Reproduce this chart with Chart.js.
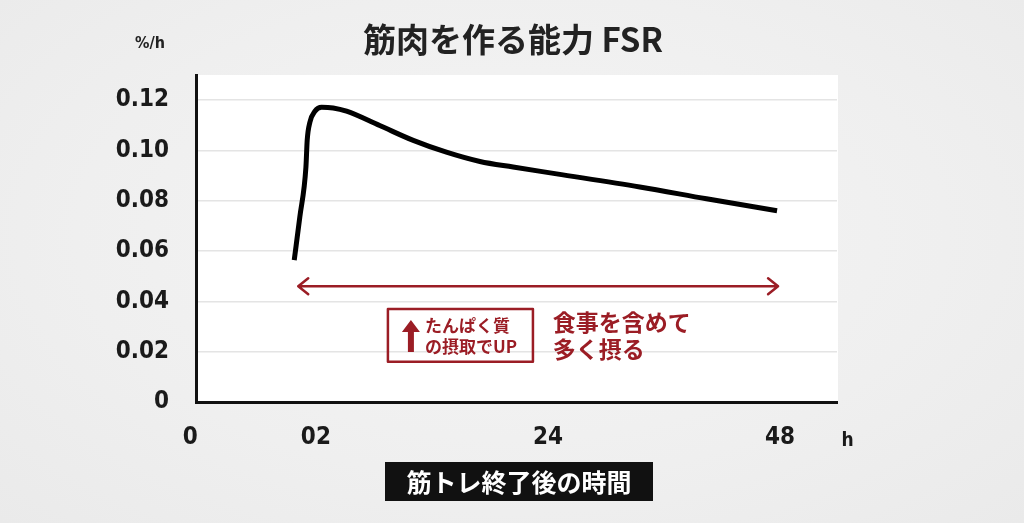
<!DOCTYPE html>
<html lang="ja">
<head>
<meta charset="utf-8">
<title>筋肉を作る能力 FSR</title>
<script src="https://cdn.jsdelivr.net/npm/chart.js@4/dist/chart.umd.min.js"></script>
<style>
  html, body { margin: 0; padding: 0; }
  body {
    width: 1024px; height: 523px; overflow: hidden;
    background: radial-gradient(ellipse at 50% 45%, #f5f5f5 0%, #efefef 60%, #eaeaea 100%);
  }
  canvas { display: block; }
</style>
</head>
<body>
<canvas id="fsr" width="1024" height="523"></canvas>
<script>
// Hours after the end of training, and the muscle protein synthesis rate (%/h)
const hours = [-2.24, -1.66, -1.03, -0.9, -0.62, -0.1, 0.59, 1.79, 3.17, 6.6, 10.07, 13.5, 16.97, 20.4, 24.9, 33.5, 40.4, 47.7];
const fsr   = [0.0564, 0.0736, 0.0934, 0.104, 0.1112, 0.1156, 0.1172, 0.1169, 0.1156, 0.1099, 0.104, 0.0993, 0.0956, 0.0934, 0.0907, 0.0855, 0.0808, 0.076];

// Axis ticks
const xTickValues = [-13, 0, 24, 48, 55];
const xTickLabels = ['0', '02', '24', '48', 'h'];
const yTickValues = [0, 0.02, 0.04, 0.06, 0.08, 0.10, 0.12];

// Texts
const titleText = '筋肉を作る能力 FSR';
const yUnitText = '%/h';
const xTitleText = '筋トレ終了後の時間';
const boxLines = ['たんぱく質', 'の摂取でUP'];
const noteLines = ['食事を含めて', '多く摂る'];

const RED = '#9b1d25';
const NUM_FONT = '"DejaVu Sans Condensed", "Liberation Sans Narrow", "DejaVu Sans", sans-serif';
const JP_FONT = '"Noto Sans CJK JP", "Noto Sans", sans-serif';

const plotBackground = {
  id: 'plotBackground',
  beforeDraw(chart) {
    const { ctx, chartArea: a } = chart;
    ctx.save();
    ctx.fillStyle = '#ffffff';
    ctx.fillRect(a.left, a.top, a.right - a.left + 1, a.bottom - a.top);
    ctx.restore();
  }
};

const decorations = {
  id: 'decorations',
  afterDraw(chart) {
    const { ctx } = chart;
    const xs = chart.scales.x, ys = chart.scales.y;
    ctx.save();

    // title
    ctx.fillStyle = '#222222';
    ctx.textAlign = 'center';
    ctx.textBaseline = 'middle';
    ctx.font = 'bold 33px ' + JP_FONT;
    ctx.fillText(titleText, 513, 39);

    // unit of the value axis
    ctx.font = 'bold 16px ' + NUM_FONT;
    ctx.fillText(yUnitText, 150, 44);

    // x axis title on a black plate
    ctx.fillStyle = '#111111';
    ctx.fillRect(385, 462, 268, 39);
    ctx.fillStyle = '#ffffff';
    ctx.font = 'bold 25px ' + JP_FONT;
    ctx.fillText(xTitleText, 519, 482);

    // span arrow across the whole curve
    const ax0 = xs.getPixelForValue(hours[0]) + 4;
    const ax1 = xs.getPixelForValue(hours[hours.length - 1]) + 1;
    const ay = ys.getPixelForValue(0.046);
    ctx.strokeStyle = RED;
    ctx.lineWidth = 2.5;
    ctx.lineCap = 'round';
    ctx.lineJoin = 'round';
    ctx.beginPath();
    ctx.moveTo(ax0, ay); ctx.lineTo(ax1, ay);
    ctx.moveTo(ax0 + 10, ay - 8); ctx.lineTo(ax0, ay); ctx.lineTo(ax0 + 10, ay + 8);
    ctx.moveTo(ax1 - 10, ay - 8); ctx.lineTo(ax1, ay); ctx.lineTo(ax1 - 10, ay + 8);
    ctx.stroke();

    // framed note
    const bx0 = xs.getPixelForValue(7.45), bx1 = xs.getPixelForValue(22.45);
    const by0 = ys.getPixelForValue(0.037), by1 = ys.getPixelForValue(0.016);
    ctx.lineWidth = 2.5;
    ctx.strokeRect(bx0, by0, bx1 - bx0, by1 - by0);
    // up arrow
    const upx = bx0 + 23;
    ctx.fillStyle = RED;
    ctx.beginPath();
    ctx.moveTo(upx, by0 + 11);
    ctx.lineTo(upx + 9, by0 + 23);
    ctx.lineTo(upx + 3, by0 + 23);
    ctx.lineTo(upx + 3, by0 + 43);
    ctx.lineTo(upx - 3, by0 + 43);
    ctx.lineTo(upx - 3, by0 + 23);
    ctx.lineTo(upx - 9, by0 + 23);
    ctx.closePath();
    ctx.fill();
    ctx.textAlign = 'left';
    ctx.font = 'bold 17px ' + JP_FONT;
    ctx.fillText(boxLines[0], bx0 + 37, by0 + 17);
    ctx.fillText(boxLines[1], bx0 + 37, by0 + 38);

    // side note
    const nx = xs.getPixelForValue(24.5);
    ctx.font = 'bold 23px ' + JP_FONT;
    ctx.fillText(noteLines[0], nx, ys.getPixelForValue(0.0315));
    ctx.fillText(noteLines[1], nx, ys.getPixelForValue(0.0208));

    ctx.restore();
  }
};

new Chart(document.getElementById('fsr'), {
  type: 'line',
  data: {
    datasets: [{
      data: hours.map((h, i) => ({ x: h, y: fsr[i] })),
      borderColor: '#000000',
      borderWidth: 5,
      pointRadius: 0,
      fill: false,
      cubicInterpolationMode: 'monotone',
      borderCapStyle: 'butt'
    }]
  },
  options: {
    responsive: false,
    animation: false,
    events: [],
    layout: { padding: { left: 0, right: 187, top: 75, bottom: 0 } },
    plugins: { legend: { display: false }, tooltip: { enabled: false }, title: { display: false } },
    scales: {
      x: {
        type: 'linear',
        min: -12.4,
        max: 53.9,
        afterBuildTicks: s => { s.ticks = xTickValues.map(v => ({ value: v })); },
        afterFit: s => { s.height = 121; },
        grid: { display: false, drawTicks: false },
        border: { display: true, color: '#111111', width: 3 },
        ticks: {
          autoSkip: false,
          maxRotation: 0,
          padding: 21,
          color: '#1a1a1a',
          font: c => (c.tick && c.tick.value === 55)
            ? { family: NUM_FONT, size: 19, weight: 'bold', lineHeight: 1.9 }
            : { family: NUM_FONT, size: 24, weight: 'bold' },
          callback: (v) => xTickLabels[xTickValues.indexOf(v)]
        }
      },
      y: {
        min: 0,
        max: 0.13,
        afterBuildTicks: s => { s.ticks = yTickValues.map(v => ({ value: v })); },
        afterFit: s => { s.width = 196; },
        grid: { color: '#e4e4e4', lineWidth: 1.5, drawTicks: false },
        border: { display: true, color: '#111111', width: 3 },
        ticks: {
          padding: 27,
          color: '#1a1a1a',
          font: { family: NUM_FONT, size: 24, weight: 'bold' },
          callback: v => v === 0 ? '0' : v.toFixed(2)
        }
      }
    }
  },
  plugins: [plotBackground, decorations]
});
</script>
</body>
</html>
